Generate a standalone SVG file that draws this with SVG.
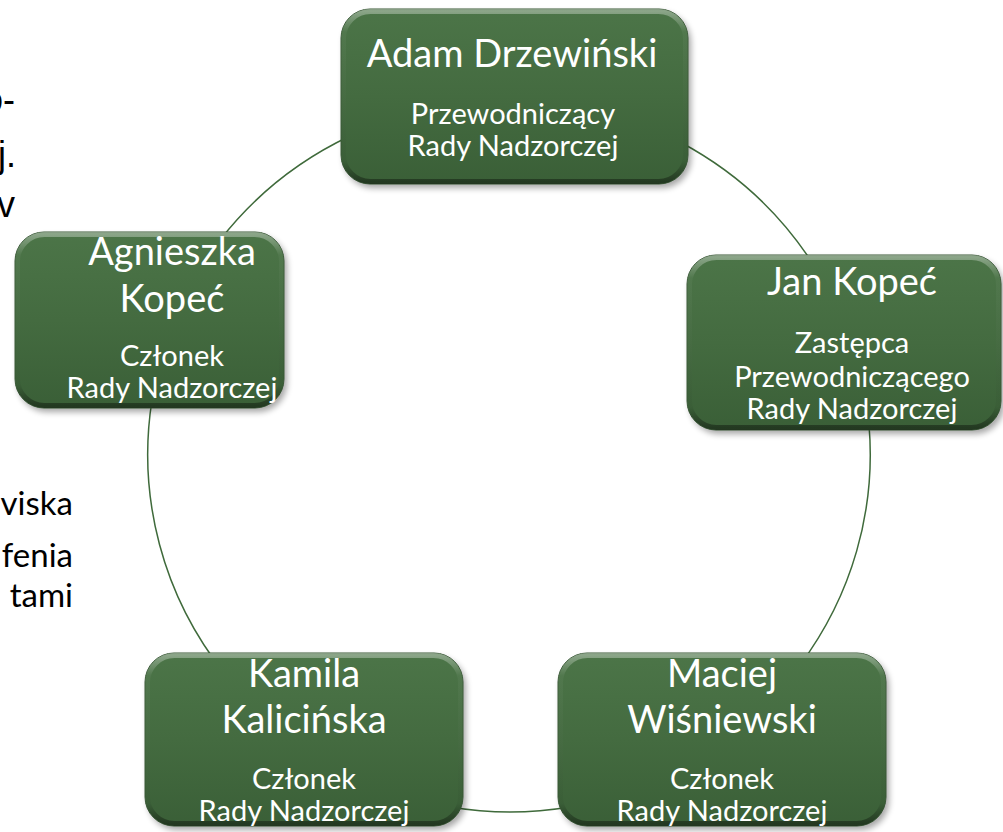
<svg xmlns="http://www.w3.org/2000/svg" width="1003" height="832" viewBox="0 0 1003 832">
<defs>
  <linearGradient id="gFill" x1="0" y1="0" x2="0" y2="1">
    <stop offset="0" stop-color="#4c7548"/>
    <stop offset="0.5" stop-color="#446b40"/>
    <stop offset="1" stop-color="#3a5f37"/>
  </linearGradient>
  <linearGradient id="gBevel" x1="0" y1="0" x2="0" y2="1">
    <stop offset="0" stop-color="#ffffff" stop-opacity="0.35"/>
    <stop offset="0.12" stop-color="#ffffff" stop-opacity="0.04"/>
    <stop offset="0.88" stop-color="#000000" stop-opacity="0.04"/>
    <stop offset="1" stop-color="#000000" stop-opacity="0.4"/>
  </linearGradient>
  <filter id="blur" x="-10%" y="-10%" width="130%" height="130%">
    <feGaussianBlur stdDeviation="3"/>
  </filter>
</defs>
<style>
  .shadow { fill:#000000; opacity:0.35; filter:url(#blur); }
  .box { fill:url(#gFill); stroke:#3a5a37; stroke-width:1; }
  .bevel { fill:none; stroke:url(#gBevel); stroke-width:5; }
  .t1 { font-family:Lato, "Open Sans", sans-serif; font-size:38px; fill:#ffffff; text-anchor:middle; }
  .t2 { font-family:Lato, "Open Sans", sans-serif; font-size:29px; fill:#ffffff; text-anchor:middle; }
  .conn path { fill:none; stroke:#3f6a3b; stroke-width:1.5; }
  .side1 { font-family:"Liberation Sans", Arial, sans-serif; font-size:36px; fill:#000000; text-anchor:end; }
  .side2 { font-family:Lato, "Open Sans", sans-serif; font-size:33px; fill:#000000; text-anchor:end; }
</style>
<rect width="1003" height="832" fill="#ffffff"/>

<g id="background-text">
  <text class="side1" x="15" y="112">o-</text>
  <text class="side1" x="16" y="167">j.</text>
  <text class="side1" x="15" y="217">v</text>
  <text class="side2" x="73" y="515">viska</text>
  <text class="side2" x="73" y="567">fenia</text>
  <text class="side2" x="73" y="607">tami</text>
</g>

<g id="connectors" class="conn">
  <path d="M 220 240 A 361 355 0 0 1 350 136"/>
  <path d="M 680 142 A 361 355 0 0 1 815 267"/>
  <path d="M 869 425 A 361 355 0 0 1 800 665"/>
  <path d="M 570 807 A 361 355 0 0 1 450 807"/>
  <path d="M 225 674 A 361 355 0 0 1 152 400"/>
</g>

<g id="node-adam">
  <rect class="shadow" x="344" y="13" width="347" height="175" rx="29"/>
  <rect class="box" x="341" y="9" width="347" height="175" rx="29"/>
  <rect class="bevel" x="343.5" y="11.5" width="342" height="170" rx="27"/>
  <text class="t1" x="512" y="67">Adam Drzewiński</text>
  <text class="t2" x="513" y="124">Przewodniczący</text>
  <text class="t2" x="513" y="156">Rady Nadzorczej</text>
</g>

<g id="node-jan">
  <rect class="shadow" x="690" y="259" width="314" height="175" rx="29"/>
  <rect class="box" x="687" y="255" width="314" height="175" rx="29"/>
  <rect class="bevel" x="689.5" y="257.5" width="309" height="170" rx="27"/>
  <text class="t1" x="852" y="295">Jan Kopeć</text>
  <text class="t2" x="852" y="353">Zastępca</text>
  <text class="t2" x="852" y="387">Przewodniczącego</text>
  <text class="t2" x="852" y="419">Rady Nadzorczej</text>
</g>

<g id="node-agnieszka">
  <rect class="shadow" x="18" y="236" width="269" height="176" rx="29"/>
  <rect class="box" x="15" y="232" width="269" height="176" rx="29"/>
  <rect class="bevel" x="17.5" y="234.5" width="264" height="171" rx="27"/>
  <text class="t1" x="172" y="265">Agnieszka</text>
  <text class="t1" x="172" y="312">Kopeć</text>
  <text class="t2" x="172" y="366">Członek</text>
  <text class="t2" x="172" y="398">Rady Nadzorczej</text>
</g>

<g id="node-kamila">
  <rect class="shadow" x="148" y="657" width="318" height="173" rx="29"/>
  <rect class="box" x="145" y="653" width="318" height="173" rx="29"/>
  <rect class="bevel" x="147.5" y="655.5" width="313" height="168" rx="27"/>
  <text class="t1" x="304" y="687">Kamila</text>
  <text class="t1" x="304" y="733">Kalicińska</text>
  <text class="t2" x="304" y="789">Członek</text>
  <text class="t2" x="304" y="821">Rady Nadzorczej</text>
</g>

<g id="node-maciej">
  <rect class="shadow" x="561" y="657" width="328" height="173" rx="29"/>
  <rect class="box" x="558" y="653" width="328" height="173" rx="29"/>
  <rect class="bevel" x="560.5" y="655.5" width="323" height="168" rx="27"/>
  <text class="t1" x="722" y="687">Maciej</text>
  <text class="t1" x="722" y="733">Wiśniewski</text>
  <text class="t2" x="722" y="789">Członek</text>
  <text class="t2" x="722" y="821">Rady Nadzorczej</text>
</g>
</svg>
